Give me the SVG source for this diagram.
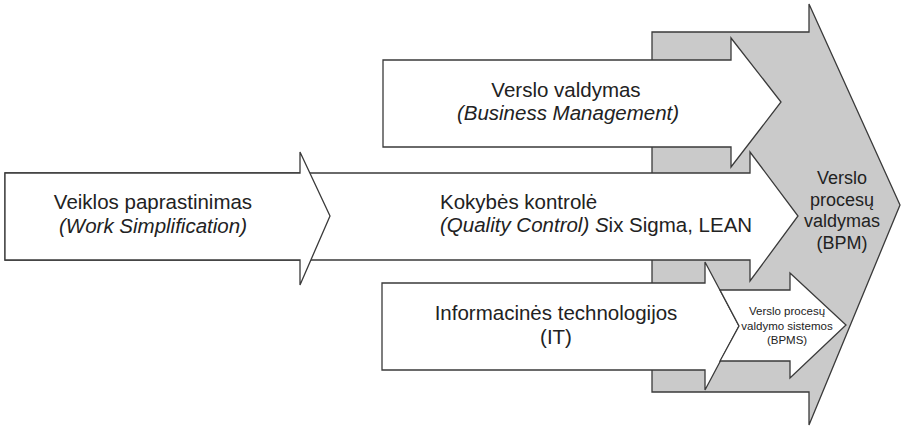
<svg xmlns="http://www.w3.org/2000/svg" width="901" height="427" viewBox="0 0 901 427">
  <style>
    .shape { stroke: #3a3a3a; stroke-width: 1.3; stroke-linejoin: miter; }
    .white { fill: #ffffff; }
    .gray { fill: #cacaca; }
    .label { font-family: "Liberation Sans", Arial, sans-serif; font-size: 20.5px; fill: #222222; }
    .mid { text-anchor: middle; }
    .it { font-style: italic; }
    .small { font-size: 11.5px; }
    .bpm { font-size: 18px; }
  </style>
  <rect width="901" height="427" fill="#ffffff"/>

  <!-- Large BPM arrow in the background -->
  <g id="node-bpm">
    <path class="shape gray" d="M652,32 H809 V4 L900,205 L809,425 V392 H652 Z"/>
  </g>

  <!-- Quality control arrow (its tail runs under the first arrow) -->
  <g id="node-quality">
    <path class="shape white" d="M5,173 H750 V152 L798,216 L750,281 V260 H5 Z"/>
    <text class="label" x="440" y="209">Kokybės kontrolė</text>
    <text class="label" x="440" y="232"><tspan class="it">(Quality Control) S</tspan>ix Sigma, LEAN</text>
  </g>

  <!-- Business management arrow -->
  <g id="node-business">
    <path class="shape white" d="M383,60 H731 V38 L781,102 L731,167 V147 H383 Z"/>
    <text class="label mid" x="566" y="96.5">Verslo valdymas</text>
    <text class="label mid it" x="568" y="120">(Business Management)</text>
  </g>

  <!-- Information technology arrow -->
  <g id="node-it">
    <path class="shape white" d="M382,283 H705 V262 L739,326 L705,390 V370 H382 Z"/>
    <text class="label mid" x="556" y="320">Informacinės technologijos</text>
    <text class="label mid" x="556" y="344">(IT)</text>
  </g>

  <!-- BPMS arrow with notched tail -->
  <g id="node-bpms">
    <path class="shape white" d="M720,290 H790 V273 L846,325 L790,378 V361 H720 L739,326 Z"/>
    <text class="label small mid" x="787" y="315">Verslo procesų</text>
    <text class="label small mid" x="787" y="329.5">valdymo sistemos</text>
    <text class="label small mid" x="787" y="344">(BPMS)</text>
  </g>

  <!-- Work simplification arrow -->
  <g id="node-work">
    <path class="shape white" d="M5,173 H300 V152 L330,216 L300,285 V260 H5 Z"/>
    <text class="label mid" x="153" y="209">Veiklos paprastinimas</text>
    <text class="label mid it" x="153" y="232.5">(Work Simplification)</text>
  </g>

  <!-- BPM label on top of the background arrow -->
  <g id="node-bpm-label">
    <text class="label bpm mid" x="842" y="184">Verslo</text>
    <text class="label bpm mid" x="842" y="205.5">procesų</text>
    <text class="label bpm mid" x="842" y="227">valdymas</text>
    <text class="label bpm mid" x="842" y="248.5">(BPM)</text>
  </g>

  <g id="connectors"/>
</svg>
